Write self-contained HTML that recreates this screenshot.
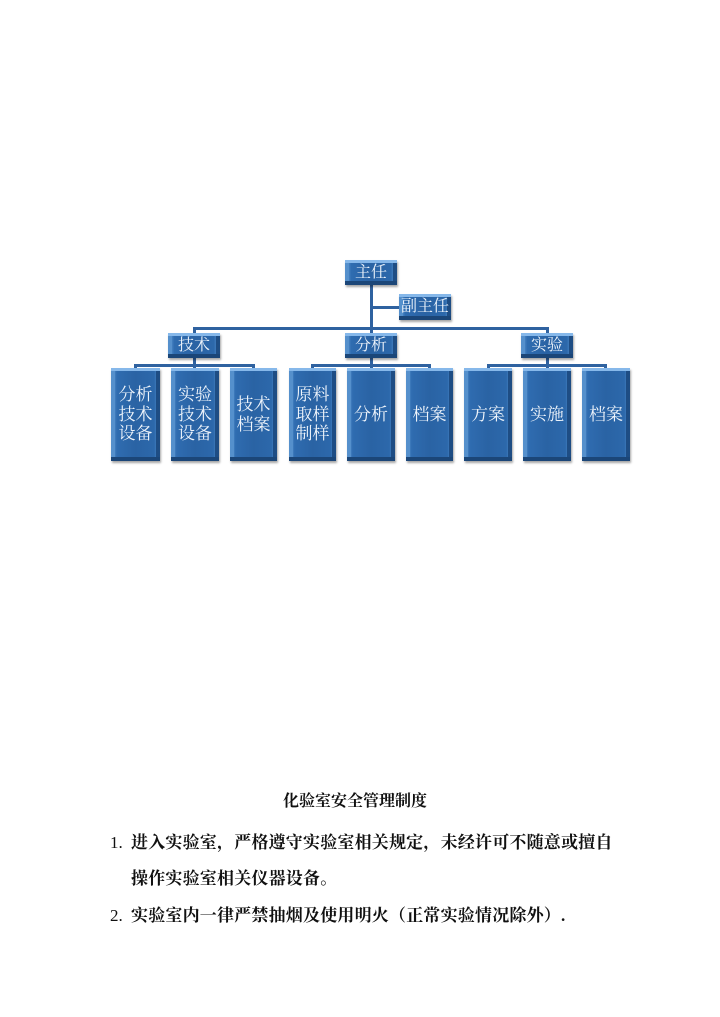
<!DOCTYPE html>
<html><head><meta charset="utf-8"><style>
body{margin:0;width:720px;height:1017px;background:#fff;position:relative;overflow:hidden;font-family:"Liberation Serif","Noto Serif CJK SC",serif;}
.b{position:absolute;box-sizing:border-box;background:linear-gradient(90deg,#6aa5de 0%,#2f6cb0 12%,#2a63a4 50%,#2c68ab 88%,#5d9ad6 100%);
box-shadow:inset 0 3px 0 #86b8ea,inset 0 -4px 0 #1b4678,inset 4px 0 0 #5590cc,inset -4px 0 0 #1e4d84,1px 2px 2px rgba(0,0,0,.35);
color:#eef4fb;font-family:"Liberation Serif","Noto Serif CJK SC",serif;display:flex;align-items:center;justify-content:center;text-align:center;line-height:1.15;}
.s{font-size:16px;padding-top:1px;}
.l{font-size:17px;}
.ln{position:absolute;background:#2f62a0;}
.t{position:absolute;font-size:17px;line-height:22px;font-weight:bold;color:#111;white-space:nowrap;}
.n{position:absolute;font-size:17px;line-height:22px;color:#111;font-family:"Liberation Serif",serif;}
</style></head><body>
<div class="ln" style="left:370px;top:285px;width:3px;height:48px"></div>
<div class="ln" style="left:370px;top:306px;width:29px;height:3px"></div>
<div class="ln" style="left:193px;top:327px;width:355px;height:3px"></div>
<div class="ln" style="left:193px;top:327px;width:3px;height:6px"></div>
<div class="ln" style="left:546px;top:327px;width:3px;height:6px"></div>
<div class="ln" style="left:134px;top:364px;width:121px;height:3px"></div>
<div class="ln" style="left:134px;top:364px;width:3px;height:5px"></div>
<div class="ln" style="left:193px;top:358px;width:3px;height:11px"></div>
<div class="ln" style="left:252px;top:364px;width:3px;height:5px"></div>
<div class="ln" style="left:311px;top:364px;width:120px;height:3px"></div>
<div class="ln" style="left:311px;top:364px;width:3px;height:5px"></div>
<div class="ln" style="left:370px;top:358px;width:3px;height:11px"></div>
<div class="ln" style="left:428px;top:364px;width:3px;height:5px"></div>
<div class="ln" style="left:487px;top:364px;width:120px;height:3px"></div>
<div class="ln" style="left:487px;top:364px;width:3px;height:5px"></div>
<div class="ln" style="left:546px;top:358px;width:3px;height:11px"></div>
<div class="ln" style="left:604px;top:364px;width:3px;height:5px"></div>
<div class="b s" style="left:345px;top:260px;width:52px;height:25px">主任</div>
<div class="b s" style="left:399px;top:294px;width:52px;height:26px">副主任</div>
<div class="b s" style="left:168px;top:333px;width:52px;height:25px">技术</div>
<div class="b s" style="left:345px;top:333px;width:52px;height:25px">分析</div>
<div class="b s" style="left:521px;top:333px;width:52px;height:25px">实验</div>
<div class="b l" style="left:111px;top:368px;width:49px;height:93px">分析<br>技术<br>设备</div>
<div class="b l" style="left:171px;top:368px;width:48px;height:93px">实验<br>技术<br>设备</div>
<div class="b l" style="left:230px;top:368px;width:47px;height:93px">技术<br>档案</div>
<div class="b l" style="left:289px;top:368px;width:47px;height:93px">原料<br>取样<br>制样</div>
<div class="b l" style="left:347px;top:368px;width:48px;height:93px">分析</div>
<div class="b l" style="left:406px;top:368px;width:47px;height:93px">档案</div>
<div class="b l" style="left:464px;top:368px;width:48px;height:93px">方案</div>
<div class="b l" style="left:523px;top:368px;width:48px;height:93px">实施</div>
<div class="b l" style="left:582px;top:368px;width:48px;height:93px">档案</div>
<div class="t" style="left:283px;top:791px;font-size:16px">化验室安全管理制度</div>
<div class="n" style="left:110px;top:832px">1.</div>
<div class="t" style="left:131px;top:832px;letter-spacing:0.2px">进入实验室，严格遵守实验室相关规定，未经许可不随意或擅自</div>
<div class="t" style="left:131px;top:868px;letter-spacing:0.2px">操作实验室相关仪器设备。</div>
<div class="n" style="left:110px;top:905px">2.</div>
<div class="t" style="left:131px;top:905px;letter-spacing:0.2px">实验室内一律严禁抽烟及使用明火（正常实验情况除外）.</div>
</body></html>
